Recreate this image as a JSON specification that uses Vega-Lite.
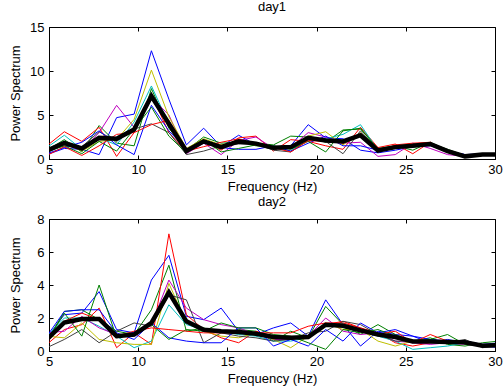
{
  "$schema": "https://vega.github.io/schema/vega-lite/v6.json",
  "padding": {"left": 9, "top": 0, "right": 0, "bottom": 0},
  "spacing": 60,
  "bounds": "flush",
  "config": {
    "font": "Liberation Sans",
    "view": {"stroke": "black", "strokeWidth": 1},
    "axis": {"grid": false, "domainColor": "black", "tickColor": "black", "labelColor": "black", "titleColor": "black", "labelFontSize": 13, "titleFontSize": 13, "titleFontWeight": "normal", "tickSize": -4, "labelFlush": false, "labelOverlap": false, "labelFont": "Liberation Sans", "titleFont": "Liberation Sans"},
    "title": {"fontSize": 13, "fontWeight": "normal", "color": "black", "font": "Liberation Sans", "offset": 7}
  },
  "datasets": {
    "day1": [
      {"f":4.88,"b1":0.5,"g1":1.0,"r1":1.5,"c1":1.3,"m1":0.8,"y1":1.0,"k1":0.9,"b2":0.6,"g2":0.8,"r2":0.4,"M":0.95},
      {"f":5.86,"b1":1.2,"g1":2.2,"r1":3.1,"c1":2.7,"m1":1.6,"y1":1.9,"k1":1.5,"b2":1.3,"g2":1.5,"r2":1.4,"M":1.84},
      {"f":6.84,"b1":1.1,"g1":0.8,"r1":2.0,"c1":1.1,"m1":1.0,"y1":0.9,"k1":1.4,"b2":1.9,"g2":0.6,"r2":0.4,"M":1.2},
      {"f":7.81,"b1":0.5,"g1":3.8,"r1":3.6,"c1":2.4,"m1":3.0,"y1":2.0,"k1":3.1,"b2":3.2,"g2":2.0,"r2":1.5,"M":2.4},
      {"f":8.79,"b1":4.7,"g1":1.8,"r1":0.3,"c1":1.6,"m1":6.1,"y1":2.2,"k1":2.0,"b2":1.6,"g2":0.9,"r2":2.8,"M":2.3},
      {"f":9.77,"b1":5.1,"g1":1.5,"r1":3.0,"c1":4.2,"m1":3.6,"y1":4.5,"k1":3.4,"b2":0.5,"g2":3.4,"r2":3.0,"M":3.35},
      {"f":10.74,"b1":12.3,"g1":8.0,"r1":7.3,"c1":8.3,"m1":7.0,"y1":10.1,"k1":4.0,"b2":6.1,"g2":5.9,"r2":3.9,"M":7.15},
      {"f":11.72,"b1":6.8,"g1":3.5,"r1":3.0,"c1":4.0,"m1":5.0,"y1":4.8,"k1":3.0,"b2":3.2,"g2":2.6,"r2":4.4,"M":4.0},
      {"f":12.70,"b1":1.6,"g1":1.0,"r1":0.8,"c1":0.9,"m1":0.6,"y1":1.2,"k1":0.5,"b2":1.1,"g2":0.7,"r2":0.9,"M":0.9},
      {"f":13.67,"b1":3.5,"g1":2.5,"r1":2.1,"c1":1.9,"m1":1.8,"y1":2.3,"k1":0.9,"b2":2.0,"g2":2.2,"r2":1.4,"M":2.0},
      {"f":14.65,"b1":1.4,"g1":1.8,"r1":1.0,"c1":1.5,"m1":0.5,"y1":1.6,"k1":1.5,"b2":1.3,"g2":0.8,"r2":1.9,"M":1.35},
      {"f":15.63,"b1":2.7,"g1":1.9,"r1":2.4,"c1":2.0,"m1":2.1,"y1":2.0,"k1":1.7,"b2":1.1,"g2":1.2,"r2":2.3,"M":2.0},
      {"f":16.60,"b1":1.6,"g1":1.8,"r1":2.6,"c1":1.5,"m1":2.5,"y1":1.5,"k1":1.7,"b2":1.1,"g2":1.6,"r2":1.6,"M":1.75},
      {"f":17.58,"b1":1.2,"g1":1.6,"r1":0.9,"c1":1.3,"m1":1.2,"y1":1.4,"k1":1.0,"b2":1.5,"g2":1.5,"r2":1.3,"M":1.27},
      {"f":18.55,"b1":1.5,"g1":2.6,"r1":2.2,"c1":0.9,"m1":1.3,"y1":1.4,"k1":0.8,"b2":0.9,"g2":1.1,"r2":0.8,"M":1.35},
      {"f":19.53,"b1":3.9,"g1":2.5,"r1":2.0,"c1":2.4,"m1":3.0,"y1":2.6,"k1":2.2,"b2":1.8,"g2":2.0,"r2":2.1,"M":2.4},
      {"f":20.51,"b1":2.4,"g1":1.9,"r1":1.5,"c1":2.3,"m1":2.5,"y1":3.1,"k1":2.0,"b2":2.6,"g2":0.8,"r2":2.0,"M":2.1},
      {"f":21.48,"b1":2.3,"g1":3.3,"r1":1.1,"c1":2.8,"m1":1.8,"y1":1.6,"k1":0.6,"b2":1.5,"g2":3.2,"r2":1.8,"M":2.0},
      {"f":22.46,"b1":1.0,"g1":3.4,"r1":3.6,"c1":3.9,"m1":1.9,"y1":3.0,"k1":3.2,"b2":1.5,"g2":3.5,"r2":2.6,"M":2.7},
      {"f":23.44,"b1":0.7,"g1":1.2,"r1":1.3,"c1":1.0,"m1":0.3,"y1":1.1,"k1":1.0,"b2":1.0,"g2":1.1,"r2":0.8,"M":0.97},
      {"f":24.41,"b1":1.0,"g1":1.5,"r1":1.7,"c1":1.3,"m1":0.5,"y1":1.4,"k1":1.4,"b2":1.3,"g2":1.5,"r2":1.6,"M":1.35},
      {"f":25.39,"b1":1.4,"g1":1.0,"r1":0.6,"c1":1.5,"m1":1.8,"y1":1.5,"k1":1.5,"b2":1.6,"g2":1.7,"r2":1.8,"M":1.5},
      {"f":26.37,"b1":1.5,"g1":1.9,"r1":1.9,"c1":1.6,"m1":1.2,"y1":1.6,"k1":1.7,"b2":1.6,"g2":1.8,"r2":1.9,"M":1.7},
      {"f":27.34,"b1":0.9,"g1":1.0,"r1":0.8,"c1":0.8,"m1":0.5,"y1":0.9,"k1":0.8,"b2":0.9,"g2":1.1,"r2":0.8,"M":0.9},
      {"f":28.32,"b1":0.5,"g1":0.3,"r1":0.3,"c1":0.2,"m1":0.3,"y1":0.3,"k1":0.3,"b2":0.5,"g2":0.4,"r2":0.3,"M":0.3},
      {"f":29.30,"b1":0.5,"g1":0.6,"r1":0.4,"c1":0.5,"m1":0.4,"y1":0.5,"k1":0.5,"b2":0.6,"g2":0.5,"r2":0.4,"M":0.5},
      {"f":30.27,"b1":0.4,"g1":0.6,"r1":0.5,"c1":0.5,"m1":0.4,"y1":0.5,"k1":0.4,"b2":0.5,"g2":0.6,"r2":0.5,"M":0.5}
    ],
    "day2": [
      {"f":4.88,"b1":0.8,"g1":0.6,"r1":0.4,"c1":0.9,"m1":1.1,"y1":0.9,"k1":0.2,"b2":0.9,"g2":0.6,"r2":0.5,"M":0.7},
      {"f":5.86,"b1":2.2,"g1":2.4,"r1":1.3,"c1":2.0,"m1":1.2,"y1":0.8,"k1":0.7,"b2":2.4,"g2":2.3,"r2":1.8,"M":1.73},
      {"f":6.84,"b1":2.3,"g1":2.5,"r1":1.6,"c1":2.0,"m1":2.1,"y1":1.7,"k1":1.3,"b2":2.5,"g2":0.9,"r2":2.3,"M":1.94},
      {"f":7.81,"b1":3.6,"g1":1.9,"r1":2.6,"c1":1.5,"m1":1.4,"y1":0.7,"k1":0.5,"b2":2.5,"g2":4.0,"r2":1.9,"M":1.94},
      {"f":8.79,"b1":1.3,"g1":1.2,"r1":0.2,"c1":0.9,"m1":1.0,"y1":0.5,"k1":1.2,"b2":1.1,"g2":0.8,"r2":0.9,"M":0.9},
      {"f":9.77,"b1":1.1,"g1":1.0,"r1":1.1,"c1":0.2,"m1":0.9,"y1":0.4,"k1":1.7,"b2":0.7,"g2":1.0,"r2":1.2,"M":1.0},
      {"f":10.74,"b1":4.3,"g1":2.5,"r1":0.4,"c1":0.6,"m1":1.6,"y1":0.4,"k1":1.5,"b2":1.7,"g2":1.6,"r2":1.4,"M":1.7},
      {"f":11.72,"b1":5.8,"g1":5.2,"r1":7.1,"c1":2.8,"m1":4.3,"y1":4.1,"k1":3.4,"b2":0.8,"g2":0.7,"r2":1.3,"M":3.55},
      {"f":12.70,"b1":2.1,"g1":1.2,"r1":2.2,"c1":1.6,"m1":2.6,"y1":1.7,"k1":3.1,"b2":0.6,"g2":1.3,"r2":1.2,"M":1.8},
      {"f":13.67,"b1":1.9,"g1":1.4,"r1":1.3,"c1":1.3,"m1":1.9,"y1":1.2,"k1":0.5,"b2":0.5,"g2":1.2,"r2":1.1,"M":1.29},
      {"f":14.65,"b1":2.6,"g1":1.1,"r1":0.8,"c1":1.2,"m1":1.6,"y1":0.9,"k1":1.1,"b2":0.5,"g2":1.7,"r2":1.1,"M":1.19},
      {"f":15.63,"b1":1.2,"g1":1.3,"r1":0.5,"c1":1.0,"m1":1.4,"y1":0.8,"k1":0.9,"b2":1.4,"g2":1.4,"r2":1.1,"M":1.15},
      {"f":16.60,"b1":1.0,"g1":1.2,"r1":1.2,"c1":0.9,"m1":1.0,"y1":1.1,"k1":0.8,"b2":1.4,"g2":1.4,"r2":1.1,"M":1.05},
      {"f":17.58,"b1":1.4,"g1":0.6,"r1":0.9,"c1":0.6,"m1":0.7,"y1":0.7,"k1":0.6,"b2":0.3,"g2":1.0,"r2":1.1,"M":0.85},
      {"f":18.55,"b1":1.7,"g1":1.2,"r1":0.7,"c1":0.6,"m1":0.7,"y1":0.2,"k1":0.7,"b2":0.7,"g2":0.9,"r2":1.1,"M":0.8},
      {"f":19.53,"b1":0.9,"g1":0.8,"r1":0.9,"c1":0.8,"m1":0.9,"y1":0.9,"k1":1.1,"b2":0.3,"g2":0.5,"r2":1.5,"M":0.85},
      {"f":20.51,"b1":3.1,"g1":2.7,"r1":1.6,"c1":1.5,"m1":2.0,"y1":1.7,"k1":1.2,"b2":1.3,"g2":0.1,"r2":1.7,"M":1.59},
      {"f":21.48,"b1":1.6,"g1":1.6,"r1":1.8,"c1":1.7,"m1":1.2,"y1":1.3,"k1":1.8,"b2":0.6,"g2":1.3,"r2":1.7,"M":1.53},
      {"f":22.46,"b1":0.3,"g1":1.0,"r1":1.4,"c1":1.3,"m1":1.0,"y1":1.3,"k1":1.6,"b2":1.7,"g2":1.1,"r2":1.4,"M":1.25},
      {"f":23.44,"b1":1.2,"g1":1.6,"r1":1.1,"c1":0.9,"m1":1.1,"y1":0.6,"k1":1.0,"b2":1.1,"g2":1.3,"r2":1.0,"M":1.0},
      {"f":24.41,"b1":1.0,"g1":1.0,"r1":0.5,"c1":0.6,"m1":0.6,"y1":0.3,"k1":0.6,"b2":1.3,"g2":0.9,"r2":1.2,"M":0.85},
      {"f":25.39,"b1":0.9,"g1":0.6,"r1":0.3,"c1":0.1,"m1":0.5,"y1":0.6,"k1":0.6,"b2":0.9,"g2":0.6,"r2":0.5,"M":0.58},
      {"f":26.37,"b1":0.5,"g1":0.8,"r1":0.5,"c1":0.2,"m1":0.4,"y1":0.7,"k1":0.7,"b2":0.7,"g2":0.7,"r2":1.0,"M":0.58},
      {"f":27.34,"b1":0.7,"g1":0.4,"r1":0.6,"c1":0.3,"m1":0.5,"y1":0.5,"k1":0.5,"b2":0.6,"g2":1.0,"r2":0.6,"M":0.55},
      {"f":28.32,"b1":0.5,"g1":0.3,"r1":0.6,"c1":0.5,"m1":0.4,"y1":0.5,"k1":0.7,"b2":0.6,"g2":0.4,"r2":0.5,"M":0.53},
      {"f":29.30,"b1":0.3,"g1":0.5,"r1":0.3,"c1":0.4,"m1":0.3,"y1":0.3,"k1":0.2,"b2":0.4,"g2":0.3,"r2":0.3,"M":0.32},
      {"f":30.27,"b1":0.2,"g1":0.6,"r1":0.3,"c1":0.4,"m1":0.4,"y1":0.3,"k1":0.3,"b2":0.5,"g2":0.4,"r2":0.3,"M":0.35}
    ]
  },
  "vconcat": [
    {
      "title": {"text": "day1", "offset": 7},
      "width": 446,
      "height": 132,
      "data": {"name": "day1"},
      "resolve": {"axis": {"x": "independent", "y": "independent"}},
      "layer": [
        {
          "transform": [{"fold": ["b1","g1","r1","c1","m1","y1","k1","b2","g2","r2"], "as": ["s","v"]}],
          "mark": {"type": "line", "strokeWidth": 1, "clip": true},
          "encoding": {
            "x": {"field": "f", "type": "quantitative", "scale": {"domain": [5,30], "nice": false}, "axis": {"values": [5,10,15,20,25,30], "labelPadding": 8, "titlePadding": 4}, "title": "Frequency (Hz)"},
            "y": {"field": "v", "type": "quantitative", "scale": {"domain": [0,15], "nice": false}, "axis": {"values": [0,5,10,15], "labelPadding": 9, "titlePadding": 7}, "title": "Power Spectrum"},
            "color": {"field": "s", "type": "nominal", "scale": {"domain": ["b1","g1","r1","c1","m1","y1","k1","b2","g2","r2"], "range": ["#0000FF","#008000","#FF0000","#00BFBF","#BF00BF","#BFBF00","#404040","#0000FF","#008000","#FF0000"]}, "legend": null}
          }
        },
        {
          "mark": {"type": "line", "strokeWidth": 4.5, "color": "black", "clip": true},
          "encoding": {
            "x": {"field": "f", "type": "quantitative", "axis": {"orient": "top", "values": [5,10,15,20,25,30], "labels": false, "domain": false, "title": null}},
            "y": {"field": "M", "type": "quantitative", "axis": {"orient": "right", "values": [0,5,10,15], "labels": false, "domain": false, "title": null}}
          }
        }
      ]
    },
    {
      "title": {"text": "day2", "offset": 4},
      "width": 446,
      "height": 132,
      "data": {"name": "day2"},
      "resolve": {"axis": {"x": "independent", "y": "independent"}},
      "layer": [
        {
          "transform": [{"fold": ["b1","g1","r1","c1","m1","y1","k1","b2","g2","r2"], "as": ["s","v"]}],
          "mark": {"type": "line", "strokeWidth": 1, "clip": true},
          "encoding": {
            "x": {"field": "f", "type": "quantitative", "scale": {"domain": [5,30], "nice": false}, "axis": {"values": [5,10,15,20,25,30], "labelPadding": 8, "titlePadding": 4}, "title": "Frequency (Hz)"},
            "y": {"field": "v", "type": "quantitative", "scale": {"domain": [0,8], "nice": false}, "axis": {"values": [0,2,4,6,8], "labelPadding": 9, "titlePadding": 14}, "title": "Power Spectrum"},
            "color": {"field": "s", "type": "nominal", "scale": {"domain": ["b1","g1","r1","c1","m1","y1","k1","b2","g2","r2"], "range": ["#0000FF","#008000","#FF0000","#00BFBF","#BF00BF","#BFBF00","#404040","#0000FF","#008000","#FF0000"]}, "legend": null}
          }
        },
        {
          "mark": {"type": "line", "strokeWidth": 4.5, "color": "black", "clip": true},
          "encoding": {
            "x": {"field": "f", "type": "quantitative", "axis": {"orient": "top", "values": [5,10,15,20,25,30], "labels": false, "domain": false, "title": null}},
            "y": {"field": "M", "type": "quantitative", "axis": {"orient": "right", "values": [0,2,4,6,8], "labels": false, "domain": false, "title": null}}
          }
        }
      ]
    }
  ]
}
